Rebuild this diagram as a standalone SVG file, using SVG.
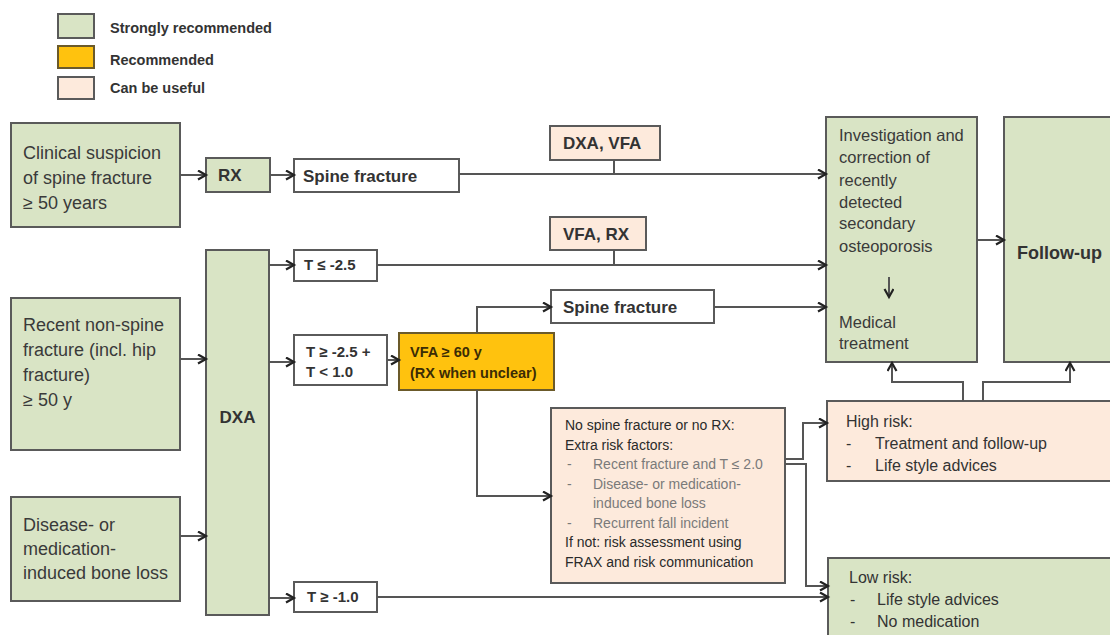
<svg xmlns="http://www.w3.org/2000/svg" width="1110" height="635" viewBox="0 0 1110 635">
<defs>
<marker id="ah" markerWidth="12" markerHeight="12" refX="9" refY="5" orient="auto" markerUnits="userSpaceOnUse">
<path d="M1,0.5 L9,5 L1,9.5" fill="none" stroke="#222" stroke-width="2.2" stroke-linejoin="miter"/>
</marker>
</defs>
<style>
.g{fill:#d9e4c5;stroke:#5a5a5a;stroke-width:2}
.y{fill:#ffc20e;stroke:#6b5a2a;stroke-width:2}
.p{fill:#fdeadc;stroke:#5a5a5a;stroke-width:2}
.w{fill:#ffffff;stroke:#5a5a5a;stroke-width:2}
.c{fill:none;stroke:#555;stroke-width:2}
.ca{fill:none;stroke:#555;stroke-width:2;marker-end:url(#ah)}
text{font-family:"Liberation Sans",Arial,sans-serif;fill:#333}
.b{font-weight:bold}
.lg{font-size:14.5px;font-weight:bold}
.big{font-size:18px;fill:#3a3a3a}
.inv{font-size:16.5px;fill:#3a3a3a}
.lab{font-size:17px;font-weight:bold;fill:#333}
.t{font-size:15px;font-weight:bold;fill:#333}
.vf{font-size:14.5px;font-weight:bold;fill:#3b2c05}
.rk{font-size:14px;fill:#2a2a2a}
.rg{font-size:14px;fill:#7a7a7a}
.hr{font-size:16px;fill:#333}
</style>

<g id="legend">
<rect class="g" x="58" y="14" width="36" height="24"/>
<rect class="y" x="58" y="46" width="36" height="22"/>
<rect class="p" x="58" y="77" width="36" height="22"/>
<text class="lg" x="110" y="33">Strongly recommended</text>
<text class="lg" x="110" y="65">Recommended</text>
<text class="lg" x="110" y="93">Can be useful</text>
</g>

<g id="clinical">
<rect class="g" x="11" y="123" width="169" height="104"/>
<text class="big" x="23" y="159">Clinical suspicion</text>
<text class="big" x="23" y="184">of spine fracture</text>
<text class="big" x="23" y="209">≥ 50 years</text>
</g>

<g id="rx">
<rect class="g" x="206" y="158" width="64" height="34"/>
<text class="lab" x="218" y="181">RX</text>
</g>

<g id="spine1">
<rect class="w" x="294" y="159" width="165" height="33"/>
<text class="lab" x="303" y="182">Spine fracture</text>
</g>

<g id="dxavfa">
<rect class="p" x="550" y="126" width="110" height="34"/>
<text class="lab" x="563" y="149">DXA, VFA</text>
</g>

<g id="vfarx">
<rect class="p" x="550" y="217" width="96" height="33"/>
<text class="lab" x="563" y="240">VFA, RX</text>
</g>

<g id="recent">
<rect class="g" x="11" y="298" width="169" height="152"/>
<text class="big" x="23" y="331">Recent non-spine</text>
<text class="big" x="23" y="356">fracture (incl. hip</text>
<text class="big" x="23" y="381">fracture)</text>
<text class="big" x="23" y="406">≥ 50 y</text>
</g>

<g id="disease">
<rect class="g" x="11" y="497" width="169" height="104"/>
<text class="big" x="23" y="531">Disease- or</text>
<text class="big" x="23" y="555">medication-</text>
<text class="big" x="23" y="579">induced bone loss</text>
</g>

<g id="dxa">
<rect class="g" x="206" y="250" width="63" height="365"/>
<text class="lab" x="237.5" y="423" text-anchor="middle">DXA</text>
</g>

<g id="tle25">
<rect class="w" x="294" y="250" width="83" height="31"/>
<text class="t" x="304" y="270">T ≤ -2.5</text>
</g>

<g id="tge25">
<rect class="w" x="294" y="335" width="93" height="50"/>
<text class="t" x="306" y="357">T ≥ -2.5 +</text>
<text class="t" x="306" y="377">T &lt; 1.0</text>
</g>

<g id="tge10">
<rect class="w" x="294" y="582" width="83" height="30"/>
<text class="t" x="307" y="602">T ≥ -1.0</text>
</g>

<g id="vfa60">
<rect class="y" x="399" y="333" width="155" height="57"/>
<text class="vf" x="410" y="357">VFA ≥ 60 y</text>
<text class="vf" x="410" y="378">(RX when unclear)</text>
</g>

<g id="spine2">
<rect class="w" x="551" y="290" width="163" height="33"/>
<text class="lab" x="563" y="313">Spine fracture</text>
</g>

<g id="riskfactors">
<rect class="p" x="551" y="408" width="234" height="175"/>
<text class="rk" x="565" y="430">No spine fracture or no RX:</text>
<text class="rk" x="565" y="450">Extra risk factors:</text>
<text class="rg" x="567" y="469">-</text>
<text class="rg" x="593" y="469">Recent fracture and T ≤ 2.0</text>
<text class="rg" x="567" y="489">-</text>
<text class="rg" x="593" y="489">Disease- or medication-</text>
<text class="rg" x="593" y="508">induced bone loss</text>
<text class="rg" x="567" y="528">-</text>
<text class="rg" x="593" y="528">Recurrent fall incident</text>
<text class="rk" x="565" y="547">If not: risk assessment using</text>
<text class="rk" x="565" y="567">FRAX and risk communication</text>
</g>

<g id="investigation">
<rect class="g" x="826" y="117" width="151" height="245"/>
<text class="inv" x="839" y="141">Investigation and</text>
<text class="inv" x="839" y="163">correction of</text>
<text class="inv" x="839" y="186">recently</text>
<text class="inv" x="839" y="208">detected</text>
<text class="inv" x="839" y="229">secondary</text>
<text class="inv" x="839" y="252">osteoporosis</text>
<path class="ca" d="M889,277 L889,297"/>
<text class="inv" x="839" y="328">Medical</text>
<text class="inv" x="839" y="349">treatment</text>
</g>

<g id="followup">
<rect class="g" x="1004" y="117" width="120" height="245"/>
<text class="b" x="1017" y="259" font-size="18px">Follow-up</text>
</g>

<g id="highrisk">
<rect class="p" x="827" y="401" width="300" height="80"/>
<text class="hr" x="846" y="427">High risk:</text>
<text class="hr" x="846" y="449">-</text>
<text class="hr" x="875" y="449">Treatment and follow-up</text>
<text class="hr" x="846" y="471">-</text>
<text class="hr" x="875" y="471">Life style advices</text>
</g>

<g id="lowrisk">
<rect class="g" x="828" y="558" width="300" height="90"/>
<text class="hr" x="849" y="583">Low risk:</text>
<text class="hr" x="850" y="605">-</text>
<text class="hr" x="877" y="605">Life style advices</text>
<text class="hr" x="850" y="627">-</text>
<text class="hr" x="877" y="627">No medication</text>
</g>

<g id="connectors">
<path class="ca" d="M180,175 L206,175"/>
<path class="ca" d="M270,175 L294,175"/>
<path class="ca" d="M459,174 L826,174"/>
<path class="c" d="M614,160 L614,174"/>
<path class="ca" d="M269,265 L294,265"/>
<path class="ca" d="M377,265 L826,265"/>
<path class="c" d="M614,250 L614,265"/>
<path class="ca" d="M180,359 L206,359"/>
<path class="ca" d="M180,536 L206,536"/>
<path class="ca" d="M269,362 L294,362"/>
<path class="ca" d="M387,360 L399,360"/>
<path class="ca" d="M477,333 L477,307 L551,307"/>
<path class="ca" d="M477,390 L477,496 L551,496"/>
<path class="ca" d="M714,307 L826,307"/>
<path class="ca" d="M785,459 L803,459 L803,423 L827,423"/>
<path class="ca" d="M785,464 L806,464 L806,586 L828,586"/>
<path class="ca" d="M269,598 L294,598"/>
<path class="ca" d="M377,597 L828,597"/>
<path class="ca" d="M963,401 L963,382 L892,382 L892,363"/>
<path class="ca" d="M983,401 L983,382 L1070,382 L1070,363"/>
<path class="ca" d="M977,240 L1004,240"/>
</g>
</svg>
